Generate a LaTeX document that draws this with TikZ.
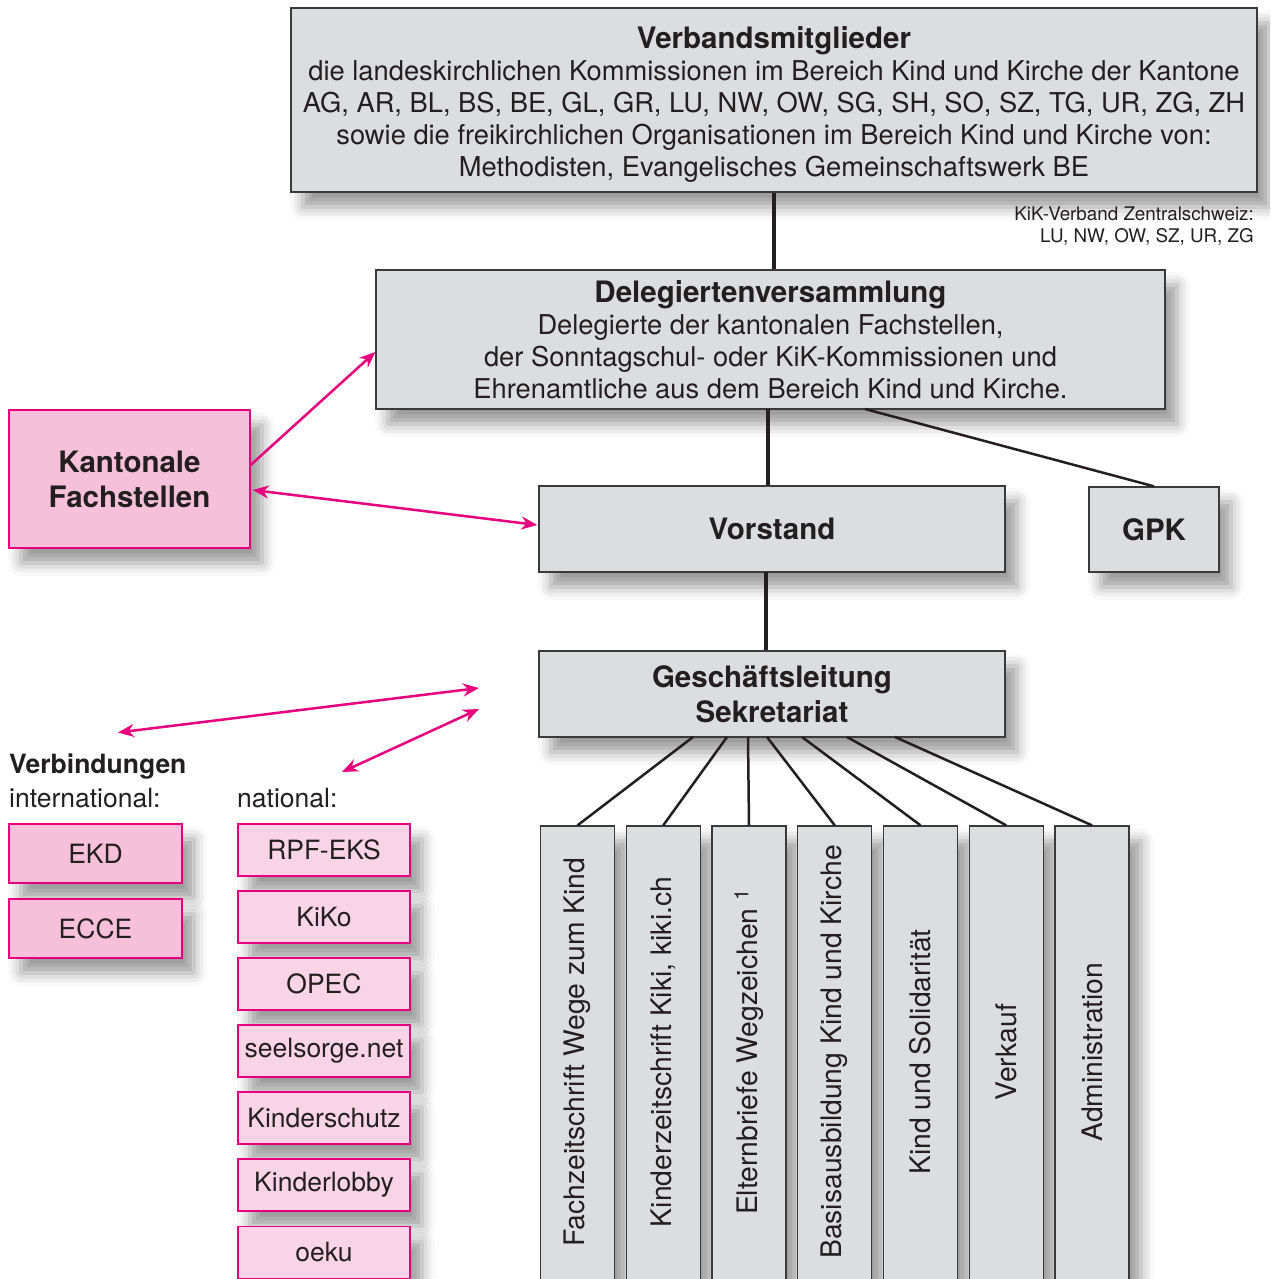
\documentclass[tikz,border=0pt]{standalone}
\usepackage{fontspec}
\setmainfont{TeX Gyre Heros}
\usetikzlibrary{arrows.meta,shadows.blur,calc}
\definecolor{boxgray}{HTML}{DCDDDF}
\definecolor{edgegray}{HTML}{3A3A3A}
\definecolor{magentaline}{HTML}{E6007E}
\definecolor{pinkdark}{HTML}{F6C0DA}
\definecolor{pinklight}{HTML}{F9D4E6}
\definecolor{txt}{HTML}{231F20}
\newcommand{\fbody}{\fontsize{27.3}{32}\selectfont}
\newcommand{\fvert}{\fontsize{28.3}{32}\selectfont}
\newcommand{\fbold}{\fontsize{29.5}{35}\selectfont\bfseries}
\newcommand{\fsmall}{\fontsize{26.5}{30}\selectfont}
\newcommand{\fnote}{\fontsize{18.8}{22}\selectfont}
\begin{document}
\begin{tikzpicture}[x=1pt,y=-1pt,
  shad/.style={blur shadow={shadow xshift=12pt, shadow yshift=-15pt, shadow blur radius=13pt, shadow opacity=40}},
  graybox/.style={shad, draw=edgegray, line width=1.3pt, fill=boxgray, inner sep=0pt, align=center, text=txt},
  pinkbox/.style={shad, draw=magentaline, line width=1.3pt, fill=pinkdark, inner sep=0pt, align=center, text=txt, font=\fsmall},
  lightbox/.style={pinkbox, fill=pinklight},
  thickline/.style={draw=txt, line width=4.5pt},
  thinline/.style={draw=txt, line width=2.5pt},
  pinkarrow/.style={draw=magentaline, line width=2.5pt, -{Stealth[length=16pt,width=13pt]}},
  pinkboth/.style={draw=magentaline, line width=2.5pt, {Stealth[length=16pt,width=13pt]}-{Stealth[length=16pt,width=13pt]}},
  plaintext/.style={text=txt, inner sep=0pt}
]
\useasboundingbox (0,0) rectangle (1270,1279);
\clip (0,0) rectangle (1270,1279);

% main hierarchy
\node[graybox, minimum width=966pt, minimum height=184pt] (top) at (774,100) {};
\node[plaintext, align=center, font=\fbody] (toptext) at ([yshift=-4pt]top.center)
  {{\fbold Verbandsmitglieder}\\die landeskirchlichen Kommissionen im Bereich Kind und Kirche der Kantone\\AG, AR, BL, BS, BE, GL, GR, LU, NW, OW, SG, SH, SO, SZ, TG, UR, ZG, ZH\\sowie die freikirchlichen Organisationen im Bereich Kind und Kirche von:\\Methodisten, Evangelisches Gemeinschaftswerk BE};
\node[plaintext, anchor=north east, align=right, font=\fnote] (note) at (1254,207)
  {KiK-Verband Zentralschweiz:\\LU, NW, OW, SZ, UR, ZG};
\node[graybox, minimum width=789pt, minimum height=139pt, font=\fbody] (del) at (770.5,339.5)
  {{\fbold Delegiertenversammlung}\\Delegierte der kantonalen Fachstellen,\\der Sonntagschul- oder KiK-Kommissionen und\\Ehrenamtliche aus dem Bereich Kind und Kirche.};
\node[graybox, minimum width=466pt, minimum height=86pt, font=\fbold] (vor) at (772,529) {Vorstand};
\node[graybox, minimum width=130pt, minimum height=85pt, font=\fbold] (gpk) at (1154,529.5) {GPK};
\node[graybox, minimum width=466pt, minimum height=86pt, font=\fbold] (gl) at (772,694) {Geschäftsleitung\\Sekretariat};
\node[pinkbox, minimum width=241pt, minimum height=138pt, font=\fbold] (kf) at (129.5,479) {Kantonale\\Fachstellen};

% connectors in hierarchy
\draw[thickline] (top.south) -- (top.south |- del.north);
\coordinate (dv) at (768,409);
\draw[thickline] (dv) -- (dv |- vor.north);
\coordinate (dg) at (865,409);
\draw[thinline] (dg) -- (gpk.north);
\coordinate (vg) at (766,572);
\draw[thickline] (vg) -- (vg |- gl.north);

% Verbindungen
\node[plaintext, anchor=west, font=\fbold\fontsize{26.5}{30}\selectfont] (verb) at (9,767) {Verbindungen};
\node[plaintext, anchor=west, font=\fsmall] (intl) at (9,798) {international:};
\node[plaintext, anchor=west, font=\fsmall] (natl) at (237,798) {national:};

\node[pinkbox, minimum width=173pt, minimum height=59pt] (ekd) at (95.5,853.5) {EKD};
\node[pinkbox, minimum width=173pt, minimum height=59pt] (ecce) at (95.5,928.5) {ECCE};

\node[lightbox, minimum width=172pt, minimum height=52pt] (n1) at (324,850) {RPF-EKS};
\node[lightbox, minimum width=172pt, minimum height=52pt] (n2) at (324,917) {KiKo};
\node[lightbox, minimum width=172pt, minimum height=52pt] (n3) at (324,984) {OPEC};
\node[lightbox, minimum width=172pt, minimum height=52pt] (n4) at (324,1051) {seelsorge.net};
\node[lightbox, minimum width=172pt, minimum height=52pt] (n5) at (324,1118) {Kinderschutz};
\node[lightbox, minimum width=172pt, minimum height=52pt] (n6) at (324,1185) {Kinderlobby};
\node[lightbox, minimum width=172pt, minimum height=52pt] (n7) at (324,1252.5) {oeku};

% pink arrows
\draw[pinkarrow] ([yshift=14pt]kf.east) -- ([yshift=-12.5pt]del.west);
\draw[pinkboth] ([xshift=2pt,yshift=-11pt]kf.east) -- ([xshift=-1pt,yshift=4pt]vor.west);
\coordinate (ia) at (118,732.5);
\coordinate (ib) at (479,688);
\draw[pinkboth] (ia) -- (ib);
\coordinate (na) at (342,772);
\coordinate (nb) at (479,709);
\draw[pinkboth] (na) -- (nb);

% departments
\foreach \i/\x/\t in {1/577.5/Fachzeitschrift Wege zum Kind,
                       2/663.25/{Kinderzeitschrift Kiki, kiki.ch},
                       3/749/Elternbriefe Wegzeichen \textsuperscript{1},
                       4/834.75/Basisausbildung Kind und Kirche,
                       5/920.5/Kind und Solidarität,
                       6/1006.25/Verkauf,
                       7/1092/Administration}{
  \node[graybox, minimum width=74pt, minimum height=464pt] (v\i) at (\x,1058) {};
  \node[plaintext, rotate=90, font=\fvert] (t\i) at ([yshift=6pt]v\i.center) {\t};
}
\foreach \i/\gx in {1/693,2/727,3/748,4/767,5/802,6/847,7/895}{
  \coordinate (g\i) at (\gx,737);
  \draw[thinline] (g\i) -- (v\i.north);
}
\end{tikzpicture}
\end{document}
